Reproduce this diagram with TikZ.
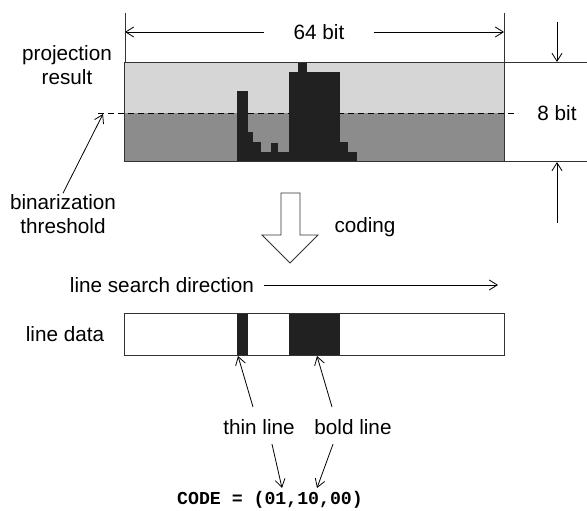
\documentclass[tikz,border=0pt]{standalone}
\usepackage{fontspec}
\setmainfont{Liberation Sans}
\setmonofont{Liberation Mono}
\usetikzlibrary{arrows.meta}

\begin{document}
\begin{tikzpicture}[x=1pt, y=-1pt, font=\fontsize{20.7}{24}\selectfont,
  frame/.style={draw=black!80, line width=0.9pt},
  bar/.style={fill=black!87},
  barb/.style={-{Straight Barb[length=8pt,width=10pt]}, line width=0.8pt},
  label/.style={align=center, inner sep=1pt}]

\useasboundingbox (0,0) rectangle (587,511);

% -------- projection result -----------
\fill[black!16] (124,62) rectangle (504,113);
\fill[black!45] (124,113) rectangle (504,161);
\draw[line width=0.9pt, dash pattern=on 6pt off 4pt] (98,113) -- (518,113);
\foreach \a/\b/\t in {237/248/91, 248/253/132, 253/261/142, 261/271/152,
    271/278/143, 278/289/152, 289/298/72, 298/307/62, 307/340/72,
    340/348/142, 348/357/152}
  \fill[bar] (\a,\t) rectangle (\b,161);
\draw[frame] (124,62) rectangle (504,161);

% dimension lines
\draw[frame] (125,13) -- (125,62);
\draw[frame] (504,13) -- (504,62);
\draw[frame] (504,62) -- (587,62);
\draw[frame] (504,161) -- (587,161);

\node[minimum width=109pt, inner sep=0pt] (bits64) at (319,32) {64 bit};
\coordinate (leftend) at (125,32);
\coordinate (rightend) at (504,32);
\draw[barb] (bits64.west) -- (leftend);
\draw[barb] (bits64.east) -- (rightend);

\node (bits8) at (557,113) {8 bit};
\coordinate (toptail) at (557,22);
\coordinate (toptip) at (557,62);
\coordinate (bottail) at (557,223);
\coordinate (bottip) at (557,162);
\draw[barb] (toptail) -- (toptip);
\draw[barb] (bottail) -- (bottip);

\node[label] (projection) at (67,65) {projection\\result};
\node[label] (threshold) at (63,214) {binarization\\threshold};
\coordinate (threshtip) at (103,114);
\draw[barb] (threshold.north) -- (threshtip);

% -------- coding -----------
\draw[frame, fill=white, line width=0.8pt] (281,193) -- (300,193) -- (300,235) -- (318,235)
  -- (290,263) -- (262,235) -- (281,235) -- cycle;
\node (coding) at (365,227) {coding};

\node (search) at (162,285) {line search direction};
\coordinate (searchend) at (498,285);
\draw[barb] ([xshift=6pt]search.east) -- (searchend);

% -------- line data -----------
\node (linedata) at (65,334) {line data};
\fill[bar] (237,313) rectangle (248,355);
\fill[bar] (289,313) rectangle (340,355);
\draw[frame] (124,313) rectangle (504,355);

\node (thin) at (259,427) {thin line};
\node (bold) at (353,427) {bold line};
\coordinate (thintail) at (253,407);
\coordinate (thintip) at (238,356);
\coordinate (boldtail) at (332,407);
\coordinate (boldtip) at (317,356);
\draw[barb] (thintail) -- (thintip);
\draw[barb] (boldtail) -- (boldtip);

\node[font=\ttfamily\bfseries\fontsize{18.2}{20}\selectfont, inner sep=1pt] (code) at (270,500) {CODE = (01,10,00)};
\coordinate (codethin) at (282,488);
\coordinate (codebold) at (317,488);
\draw[barb] ([xshift=13pt,yshift=-6pt]thin.south) -- (codethin);
\draw[barb] ([xshift=-20pt,yshift=-6pt]bold.south) -- (codebold);

\end{tikzpicture}
\end{document}
